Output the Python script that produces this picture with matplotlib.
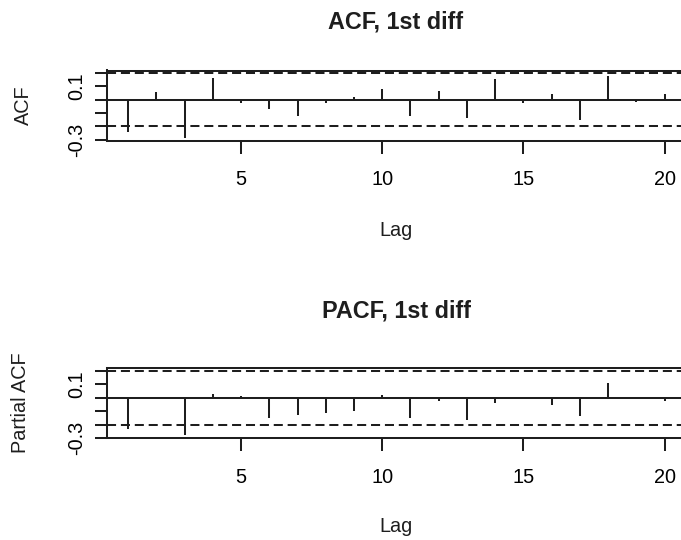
import matplotlib
matplotlib.use("Agg")
import matplotlib.pyplot as plt

plt.rcParams["font.family"] = ["Liberation Sans", "DejaVu Sans"]

lags = list(range(1, 21))
acf_vals = [-0.24, 0.055, -0.2875, 0.16, -0.028, -0.07, -0.12, -0.028, 0.02, 0.083,
            -0.12, 0.063, -0.14, 0.158, -0.025, 0.045, -0.15, 0.178, -0.02, 0.045]
pacf_vals = [-0.23, -0.01, -0.275, 0.025, 0.01, -0.15, -0.13, -0.11, -0.10, 0.018,
             -0.15, -0.025, -0.165, -0.035, -0.005, -0.055, -0.135, 0.11, -0.01, -0.02]
clim = 0.2
yticks = [-0.3, -0.2, -0.1, 0.0, 0.1, 0.2]
ytick_labels = ["-0.3", "", "", "", "0.1", ""]
xticks = [5, 10, 15, 20]

W, H = 681, 540
ink = "#1e1e1e"
lw = 1.45


def draw_panel(ax, vals):
    ax.vlines(lags, 0, vals, color=ink, lw=lw)
    ax.axhline(0, color=ink, lw=lw)
    for c in (clim, -clim):
        ax.axhline(c, color=ink, lw=lw, linestyle=(0, (4.5, 2.4)))
    # R style ranges: 4% padding around the data
    lo, hi = min(min(vals), -clim), max(max(vals), clim)
    r = hi - lo
    ax.set_ylim(lo - 0.04 * r, hi + 0.04 * r)
    ax.set_xlim(1 - 0.04 * 19, 20 + 0.04 * 19)
    ax.set_xticks(xticks)
    ax.set_yticks(yticks, ytick_labels)
    ax.tick_params(axis="x", length=9.4, width=lw, color=ink, pad=12, labelsize=14.3)
    ax.tick_params(axis="y", length=8.6, width=lw, color=ink, pad=6, labelsize=14.3)
    for lab in ax.get_yticklabels():
        lab.set_rotation(90)
        lab.set_va("center")
    for s in ax.spines.values():
        s.set_linewidth(lw)
        s.set_color(ink)


fig = plt.figure(figsize=(W / 100, H / 100), dpi=100)

left, right = 106.7, 686
ax1 = fig.add_axes([left / W, 1 - 140.7 / H, (right - left) / W, 70.2 / H])
ax2 = fig.add_axes([left / W, 1 - 438.3 / H, (right - left) / W, 70.0 / H])
draw_panel(ax1, acf_vals)
draw_panel(ax2, pacf_vals)

cx = 396 / W
fig.text(cx, 1 - 21.7 / H, "ACF, 1st diff", ha="center", va="center", fontsize=16.8, fontweight="bold", color=ink)
fig.text(cx, 1 - 311 / H, "PACF, 1st diff", ha="center", va="center", fontsize=16.8, fontweight="bold", color=ink)
fig.text(cx, 1 - 230 / H, "Lag", ha="center", va="center", fontsize=14.3, color=ink)
fig.text(cx, 1 - 527 / H, "Lag", ha="center", va="center", fontsize=14.3, color=ink)
fig.text(23 / W, 1 - 105 / H, "ACF", ha="center", va="center", rotation=90, fontsize=14.3, color=ink)
fig.text(21 / W, 1 - 403 / H, "Partial ACF", ha="center", va="center", rotation=90, fontsize=14.3, color=ink)

fig.savefig("out.png", dpi=100)
plt.close(fig)
